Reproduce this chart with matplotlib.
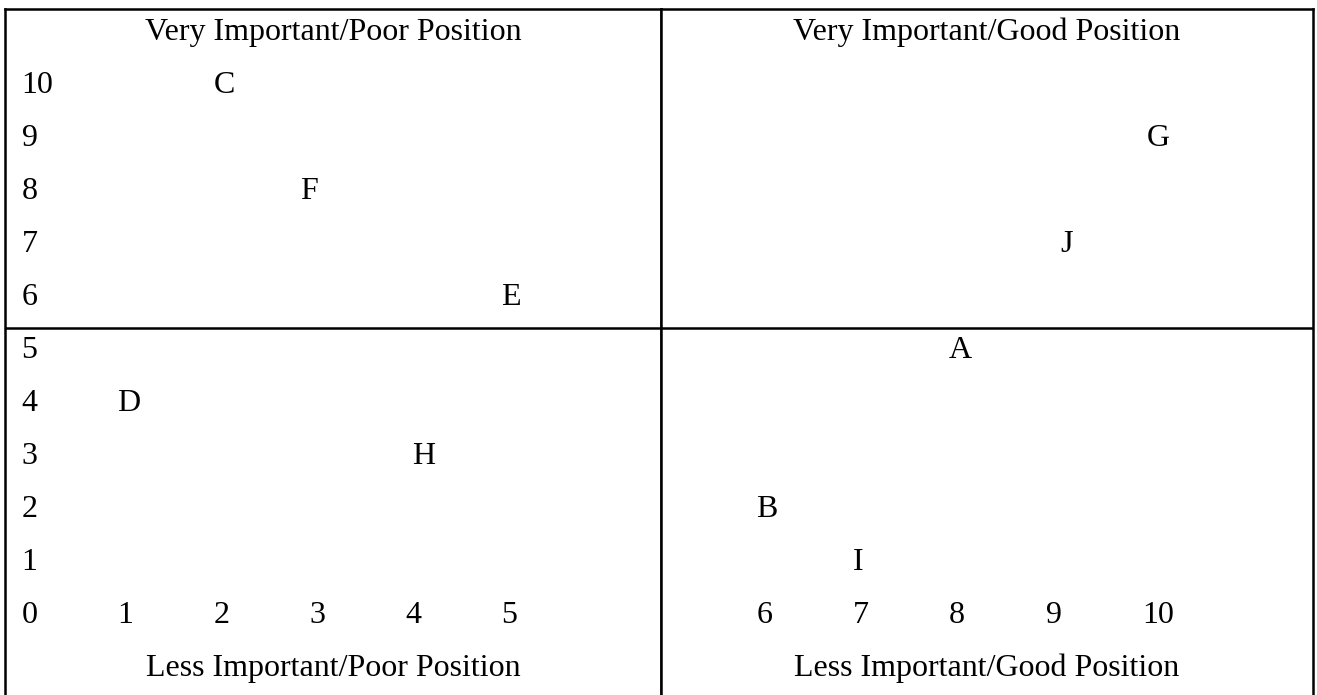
"""
Importance / position grid: letters placed on a 0-10 scale
split into four quadrants, drawn as text on two matplotlib axes.
"""

import matplotlib
matplotlib.use('Agg')
import matplotlib.pyplot as plt
from matplotlib.transforms import blended_transform_factory

plt.rcParams['font.family'] = ['Liberation Serif', 'DejaVu Serif']

# Data
row_ticks = [10, 9, 8, 7, 6, 5, 4, 3, 2, 1, 0]
left_cols = [1, 2, 3, 4, 5]
right_cols = [6, 7, 8, 9, 10]

labels = ['A', 'B', 'C', 'D', 'E', 'F', 'G', 'H', 'I', 'J']
x_vals = [8, 6, 2, 1, 5, 2.9, 10.05, 4.07, 7, 9.15]
y_vals = [5, 2, 10, 4, 6, 8, 9, 3, 1, 7]

headers = ['Very Important/Poor Position', 'Very Important/Good Position']
footers = ['Less Important/Poor Position', 'Less Important/Good Position']

SPLIT_X = 5.5      # letters with x above this go to the right half
SPLIT_Y = 5.56     # horizontal divider between the quadrant rows
HEAD_Y = 11
FOOT_Y = -1
FS = 23
LW = 1.8

fig = plt.figure(figsize=(13.17, 6.95), dpi=100, facecolor='white')
W, H = 1317, 695
ax_l = fig.add_axes([5 / W, 0, 656 / W, 686 / H])
ax_r = fig.add_axes([661 / W, 0, 652 / W, 686 / H])

ax_l.set_xlim(-0.172, 6.661)
ax_r.set_xlim(5.010, 11.774)
for ax in (ax_l, ax_r):
    ax.set_ylim(-1.364, 11.579)
    ax.set_xticks([])
    ax.set_yticks([])
    for side in ('top', 'left', 'right'):
        ax.spines[side].set_linewidth(LW)
        ax.spines[side].set_color('black')
    ax.spines['bottom'].set_visible(False)
    ax.axhline(SPLIT_Y, color='black', lw=LW)

# headers / footers, centred in each half
for ax, head, foot in zip((ax_l, ax_r), headers, footers):
    tr = blended_transform_factory(ax.transAxes, ax.transData)
    ax.text(0.5, HEAD_Y, head, transform=tr, ha='center', va='baseline', fontsize=FS)
    ax.text(0.5, FOOT_Y, foot, transform=tr, ha='center', va='baseline', fontsize=FS)

# row scale down the left side
for v in row_ticks:
    ax_l.text(0, v, str(v), ha='left', va='baseline', fontsize=FS)

# column scale along the bottom row
for c in left_cols:
    ax_l.text(c, 0, str(c), ha='left', va='baseline', fontsize=FS)
for c in right_cols:
    ax_r.text(c, 0, str(c), ha='left', va='baseline', fontsize=FS)

# letters
for lab, x, y in zip(labels, x_vals, y_vals):
    ax = ax_r if x > SPLIT_X else ax_l
    ax.text(x, y, lab, ha='left', va='baseline', fontsize=FS)

fig.savefig('out.png', dpi=100, facecolor='white')
